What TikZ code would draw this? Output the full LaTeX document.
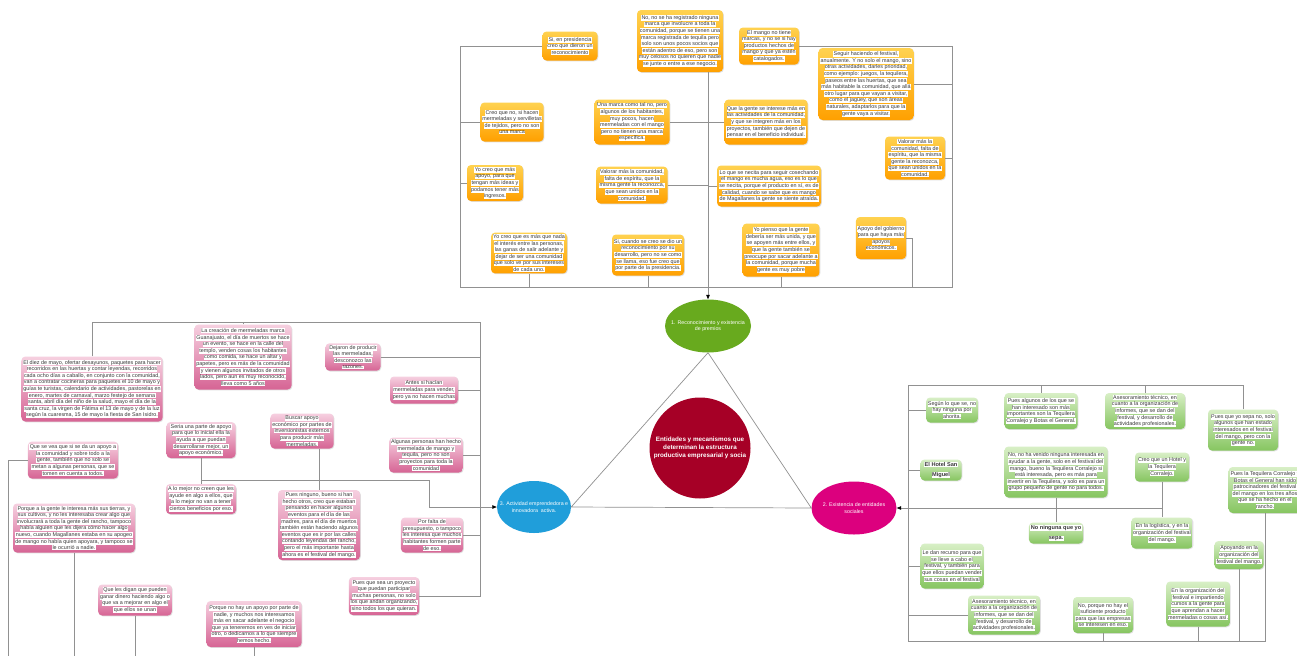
\documentclass[tikz,border=0pt]{standalone}
\usepackage{fontspec}
\setmainfont{Liberation Sans}
\usetikzlibrary{shapes.geometric,arrows.meta,shadows}
\definecolor{orT}{RGB}{255,210,80}
\definecolor{orB}{RGB}{255,160,0}
\definecolor{pkT}{RGB}{246,208,224}
\definecolor{pkB}{RGB}{214,100,148}
\definecolor{grT}{RGB}{216,239,198}
\definecolor{grB}{RGB}{134,197,96}
\definecolor{lnC}{RGB}{145,145,145}
\definecolor{txC}{RGB}{55,55,55}
\definecolor{eGreen}{RGB}{104,170,30}
\definecolor{eRed}{RGB}{166,0,38}
\definecolor{eBlue}{RGB}{32,158,218}
\definecolor{eMag}{RGB}{220,0,126}
\setlength{\fboxsep}{0.35pt}
\newcommand\hw[1]{\colorbox{white}{#1}}
\def\mlA#1|#2\mlEnd{\hw{#1}\ifx\relax#2\relax\else\\\mlA#2\mlEnd\fi}
\newcommand\ml[1]{\mlA#1|\mlEnd}
\tikzset{
  bx/.style={rounded corners=4pt, align=center, inner sep=1.5pt,
    font=\fontsize{5.4}{6.6}\selectfont, text=txC,
    drop shadow={opacity=0.25,shadow xshift=0.8pt,shadow yshift=-0.8pt}},
  ob/.style={bx, top color=orT, bottom color=orB},
  pb/.style={bx, top color=pkT, bottom color=pkB},
  gb/.style={bx, top color=grT, bottom color=grB},
  bld/.style={font=\fontsize{5.6}{10}\selectfont\bfseries},
  sz/.style 2 args={minimum width=#1pt, minimum height=#2pt},
  ln/.style={draw=lnC, line width=0.7pt},
  arr/.style={ln, -{Triangle[length=4.5pt,width=3.5pt,color=black]}},
  el/.style={ellipse, inner sep=-12pt, text=white, align=center,
    font=\fontsize{5.3}{6.6}\selectfont},
}
\begin{document}
\begin{tikzpicture}[x=1pt,y=-1pt]
\useasboundingbox (0,0) rectangle (1297,656);
\fill[white] (0,0) rectangle (1297,656);

% ---------- central ellipses ----------
\node[el, fill=eGreen, sz={86}{53}] (E1) at (708,326) {1. Reconocimiento y existencia\\de premios};
\node[el, fill=eMag, sz={85}{53}] (E2) at (854,508) {2. Existencia de entidades\\sociales};
\node[el, fill=eBlue, sz={74}{52}] (E3) at (534,507) {3. Actividad emprendedora e\\innovadora\ \ activa.};
\node[circle, fill=eRed, minimum size=101pt, inner sep=0pt, text=white, align=center,
  font=\fontsize{6.3}{7.8}\selectfont\bfseries] (C) at (700,448)
  {Entidades y mecanismos que\\determinan la estructura\\productiva empresarial y socia};

% ---------- top (orange) ----------
\node[ob, sz={55}{29}] (T1) at (570,46) {\ml{Si, en presidencia|creo que dieron un|reconocimiento}};
\node[ob, sz={86}{62}] (T2) at (680,41) {\ml{No, no se ha registrado ninguna|marca que involucre a toda la|comunidad, porque se tienen una|marca registrada de tequila pero|solo son unos pocos socios que|están adentro de eso, pero son|muy celosos no quieren que nadie|se junte o entre a ese negocio.}};
\node[ob, sz={62}{39}] (T3) at (512,122) {\ml{Creo que no, si hacen|mermeladas y servilletas|de tejidos, pero no son|una marca}};
\node[ob, sz={75}{45}] (T4) at (632,122) {\ml{Una marca como tal no, pero|algunos de los habitantes,|muy pocos, hacen|mermeladas con el mango|pero no tienen una marca|específica.}};
\node[ob, sz={60}{37}] (T5) at (769,46) {\ml{El mango no tiene|marcas, y no se si hay|productos hechos de|mango y que ya estén|catalogados.}};
\node[ob, sz={95}{72}] (T6) at (866,84) {\ml{Seguir haciendo el festival,|anualmente. Y no solo el mango, sino|otras actividades, darles prioridad,|como ejemplo: juegos, la tequilera,|paseos entre las huertas, que sea|más habitable la comunidad, que allá|otro lugar para que vayan a visitar,|como el jagüey, que son áreas|naturales, adaptarlos para que la|gente vaya a visitar.}};
\node[ob, sz={83}{45}] (T7) at (766,122) {\ml{Que la gente se interese más en|las actividades de la comunidad,|y que se integren más en los|proyectos, también que dejen de|pensar en el beneficio individual.}};
\node[ob, sz={60}{43}] (T8) at (915,158) {\ml{Valorar más la|comunidad, falta de|espíritu, que la misma|gente la reconozca,|que sean unidos en la|comunidad.}};
\node[ob, sz={56}{36}] (T9) at (495,183) {\ml{Yo creo que más|apoyo, para que|tengan más ideas y|podamos tener más|ingresos.}};
\node[ob, sz={71}{37}] (T10) at (632,185) {\ml{Valorar más la comunidad,|falta de espíritu, que la|misma gente la reconozca,|que sean unidos en la|comunidad.}};
\node[ob, sz={104}{41}] (T11) at (769,186) {\ml{Lo que se necita para seguir cosechando|el mango es mucha agua, eso es lo que|se necita, porque el producto en sí, es de|calidad, cuando se sabe que es mango|de Magallanes la gente se siente atraída.}};
\node[ob, sz={76}{40}] (T12) at (529,253) {\ml{Yo creo que es más que nada|el interés entre las personas,|las ganas de salir adelante y|dejar de ser una comunidad|que solo ve por sus intereses|de cada uno.}};
\node[ob, sz={72}{41}] (T13) at (648,255) {\ml{Si, cuando se creo se dio un|reconocimiento por su|desarrollo, pero no se como|se llama, eso fue creo que|por parte de la presidencia.}};
\node[ob, sz={76}{53}] (T14) at (781,250) {\ml{Yo pienso que la gente|debería ser más unida, y que|se apoyen más entre ellos, y|que la gente también se|preocupe por sacar adelante a|la comunidad, porque mucha|gente es muy pobre}};
\node[ob, sz={49}{42}] (T15) at (881,238) {\ml{Apoyo del gobierno|para que haya más|apoyos|económicos.}};

\coordinate (fbl) at (460,287);
\coordinate (fbr) at (952,287);
\coordinate (t15d) at (912,287);
\draw[ln] (T1.west) -| (fbl) -- (fbr) |- (T5.east);
\draw[ln] (T3.west) -- (T3.west -| fbl);
\draw[ln] (T9.west) -- (T9.west -| fbl);
\draw[ln] (T6.east) -- (T6.east -| fbr);
\draw[ln] (T8.east) -- (T8.east -| fbr);
\draw[ln] (T12.south) -- (T12.south |- fbl);
\draw[ln] (T13.south) -- (T13.south |- fbl);
\draw[ln] (T14.south) -- (T14.south |- fbl);
\draw[ln] (T15.east) -| (t15d);
\draw[arr] (E1.north |- T2.south) -- (E1.north);
\draw[ln] (T4.east) -- (T4.east -| E1.north);
\draw[ln] (T7.west) -- (T7.west -| E1.north);
\draw[ln] (T10.east) -- (T10.east -| E1.north);
\draw[ln] (T11.west) -- (T11.west -| E1.north);

% triangle
\draw[ln] (E1.south) -- (E3.east) -- (E2.west) -- (E1.south);

% ---------- left (pink) ----------
\node[pb, sz={141}{65}] (L1) at (92,389) {\ml{El diez de mayo, ofertar desayunos, paquetes para hacer|recorridos en las huertas y contar leyendas, recorridos|cada ocho días a caballo, en conjunto con la comunidad,|van a contratar cocineras para paquetes el 10 de mayo y|guías te turistas, calendario de actividades, pastorelas en|enero, martes de carnaval, marzo festejo de semana|santa, abril día del niño de la salud, mayo el día de la|santa cruz, la virgen de Fátima el 13 de mayo y de la luz|según la cuaresma, 15 de mayo la fiesta de San Isidro.}};
\node[pb, sz={97}{65}] (L2) at (243,357) {\ml{La creación de mermeladas marca|Guanajuato, el día de muertos se hace|un evento, se hace en la calle del|templo, venden cosas los habitantes|como comida, se hace un altar y|papetes, pero es más de la comunidad|y vienen algunos invitados de otros|lados, pero aun es muy reconocido,|lleva como 5 años}};
\node[pb, sz={55}{27}] (L3) at (353,357) {\ml{Dejaron de producir|las mermeladas,|desconozco las|razones.}};
\node[pb, sz={68}{27}] (L4) at (424,390) {\ml{Antes si hacían|mermeladas para vender,|pero ya no hacen muchas}};
\node[pb, sz={73}{35}] (L5) at (426,455) {\ml{Algunas personas han hecho|mermelada de mango y|tequila, pero no son|proyectos para toda la|comunidad}};
\node[pb, sz={69}{36}] (L6) at (201,440) {\ml{Seria una parte de apoyo|para que lo inicial ella la|ayuda a que puedan|desarrollarse mejor, un|apoyo económico.}};
\node[pb, sz={70}{30}] (L7) at (201,499) {\ml{A lo mejor no creen que les|ayude en algo a ellos, que|a lo mejor no van a tener|ciertos beneficios por eso.}};
\node[pb, sz={63}{35}] (L8) at (302,431) {\ml{Buscar apoyo|económico por partes de|inversionistas externos|para producir más|mermeladas.}};
\node[pb, sz={82}{70}] (L9) at (319,525) {\ml{Pues ninguno, bueno si han|hecho otros, creo que estaban|pensando en hacer algunos|eventos para el día de las|madres, para el día de muertos|también están haciendo algunos|eventos que es ir por las calles|contando leyendas del rancho,|pero el más importante hasta|ahora es el festival del mango.}};
\node[pb, sz={90}{37}] (L10) at (73,460) {\ml{Que se vea que si se da un apoyo a|la comunidad y sobre todo a la|gente, también que no solo se|metan a algunas personas, que se|tomen en cuenta a todos.}};
\node[pb, sz={122}{49}] (L11) at (74,528) {\ml{Porque a la gente le interesa más sus tierras, y|sus cultivos, y no les interesaba crear algo que|involucrará a toda la gente del rancho, tampoco|había alguien que les dijera cómo hacer algo|nuevo, cuando Magallanes estaba en su apogeo|de mango no había quien apoyara, y tampoco se|le ocurrió a nadie.}};
\node[pb, sz={73}{31}] (L12) at (135,600) {\ml{Que les digan que pueden|ganar dinero haciendo algo o|que va a mejorar en algo el|que ellos se unan}};
\node[pb, sz={95}{46}] (L13) at (254,624) {\ml{Porque no hay un apoyo por parte de|nadie, y muchos nos interesamos|más en sacar adelante el negocio|que ya teneremos en ves de iniciar|otro, o dedicarnos a lo que siempre|hemos hecho.}};
\node[pb, sz={61}{35}] (L14) at (432,535) {\ml{Por falta de|presupuesto, o tampoco|les interesa que muchos|habitantes formen parte|de eso.}};
\node[pb, sz={69}{38}] (L15) at (384,596) {\ml{Pues que sea un proyecto|que puedan participar|muchas personas, no solo|los que andan organizando,|sino todos los que quieran.}};

\coordinate (ltr) at (480,322);
\coordinate (lj1) at (201,480);
\coordinate (lj2) at (429,480);
\coordinate (lbot) at (8,656);
\draw[ln] (L1.north) |- (ltr) |- (L15.east);
\draw[ln] (L2.north) -- (L2.north |- ltr);
\draw[ln] (L3.east) -- (L3.east -| ltr);
\draw[ln] (L4.east) -- (L4.east -| ltr);
\draw[ln] (L5.east) -- (L5.east -| ltr);
\draw[ln] (L14.east) -- (L14.east -| ltr);
\draw[ln] (L6.south) -- (L7.north);
\draw[ln] (L9.north |- L8.south) -- (L9.north);
\draw[arr] (lj1) -- (lj2) |- (E3.west);
\draw[ln] (L10.west) -| (lbot);
\draw[ln] (L11.south) -- (L11.south |- lbot);
\draw[ln] (L12.south) -- (L12.south |- lbot);
\draw[ln] (L13.south) -- (L13.south |- lbot);

% ---------- right (green) ----------
\node[gb, sz={50}{25}] (R1) at (952,410) {\ml{Según lo que se, no|hay ninguna por|ahorita.}};
\node[gb, sz={73}{36}] (R2) at (1041,411) {\ml{Pues algunos de los que se|han interesado son más|importantes son la Tequilera|Corralejo y Botas el General.}};
\node[gb, bld, sz={41}{21}] (R3) at (941,470) {\hw{El Hotel San}\\\hw{Miguel}};
\node[gb, sz={103}{51}] (R4) at (1056,472) {\ml{No, no ha venido ninguna interesada en|ayudar a la gente, solo en el festival del|mango, bueno la Tequilera Corralejo si|está interesada, pero es más para|invertir en la Tequilera, y solo es para un|grupo pequeño de gente no para todos.}};
\node[gb, bld, sz={49}{21}] (R5) at (1056,533) {\hw{No ninguna que yo}\\\hw{sepa.}};
\node[gb, sz={62}{45}] (R6) at (952,566) {\ml{Le dan recurso para que|se lleve a cabo el|festival, y también para|que ellos puedan vender|sus cosas en el festival}};
\node[gb, sz={72}{39}] (R7) at (1004,615) {\ml{Asesoramiento técnico, en|cuanto a la organización de|informes, que se dan del|festival, y desarrollo de|actividades profesionales.}};
\node[gb, sz={60}{36}] (R8) at (1103,615) {\ml{No, porque no hay el|suficiente producto|para que las empresas|se interesen en eso.}};
\node[gb, sz={80}{36}] (R9) at (1145,411) {\ml{Asesoramiento técnico, en|cuanto a la organización de|informes, que se dan del|festival, y desarrollo de|actividades profesionales.}};
\node[gb, sz={70}{41}] (R10) at (1243,430) {\ml{Pues que yo sepa no, solo|algunos que han estado|interesados en el festival|del mango, pero con la|gente no.}};
\node[gb, sz={54}{29}] (R11) at (1162,467) {\ml{Creo que un Hotel y|la Tequilera|Corralejo.}};
\node[gb, sz={72}{46}] (R12) at (1265,490) {\ml{Pues la Tequilera Corralejo y|Botas el General han sido|patrocinadores del festival|del mango en los tres años|que se ha hecho en el|rancho.}};
\node[gb, sz={61}{31}] (R13) at (1162,533) {\ml{En la logística, y en la|organización del festival|del mango.}};
\node[gb, sz={49}{28}] (R14) at (1239,555) {\ml{Apoyando en la|organización del|festival del mango.}};
\node[gb, sz={62}{45}] (R15) at (1198,604) {\ml{En la organización del|festival e impartiendo|cursos a la gente para|que aprendan a hacer|mermeladas o cosas así.}};

\coordinate (rtl) at (908,385);
\coordinate (rbl) at (908,641);
\draw[ln] (R10.north) |- (rtl) -- (rbl) -| (R12.south);
\draw[ln] (R2.north) -- (R2.north |- rtl);
\draw[ln] (R9.north) -- (R9.north |- rtl);
\draw[ln] (R1.west) -- (R1.west -| rtl);
\draw[ln] (R3.west) -- (R3.west -| rtl);
\draw[ln] (R6.west) -- (R6.west -| rtl);
\draw[ln] (R7.west) -- (R7.west -| rtl);
\draw[ln] (R4.south) -- (R5.north);
\draw[ln] (R11.south) -- (R13.north);
\draw[arr] (R11.south |- E2.east) -- (E2.east);
\draw[ln] (R14.south) -- (R14.south |- rbl);
\draw[ln] (R15.south) -- (R15.south |- rbl);
\draw[ln] (R8.south) -- (R8.south |- rbl);
\end{tikzpicture}
\end{document}
